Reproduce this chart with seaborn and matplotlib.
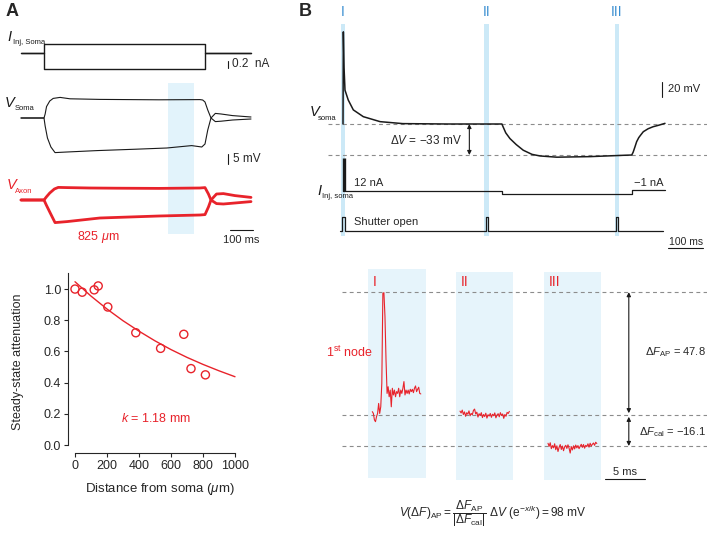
import numpy as np
import matplotlib
matplotlib.use("Agg")
import matplotlib.pyplot as plt
import seaborn as sns

sns.set_theme(style="ticks")
plt.rcParams["font.family"] = ["Liberation Sans", "DejaVu Sans"]
plt.rcParams["mathtext.fontset"] = "custom"
plt.rcParams["mathtext.rm"] = "Liberation Sans"
plt.rcParams["mathtext.it"] = "Liberation Sans:italic"
plt.rcParams["mathtext.bf"] = "Liberation Sans:bold"

RED = "#e8232b"
BLUE_TXT = "#3a8fd1"
BAND_A = "#e2f3fb"
BAND_B = "#cce9f7"
BOX_B = "#e6f4fb"
DASH = "#8c8c8c"

# ---- panel A, traces (time in ms, current in nA, voltage in mV) ----
inj_t = [0, 100, 100, 800, 800, 1000]
inj_up = [0, 0, 0.24, 0.24, 0, 0]
inj_dn = [0, 0, -0.43, -0.43, 0, 0]

soma_up_t = [0, 100, 105, 111, 125, 140, 170, 213, 343, 600, 778, 790, 800, 812, 826, 845, 870, 920, 1000]
soma_up_v = [0, 0, 2, 5.7, 8.5, 9.8, 10.3, 9.6, 9.3, 9.1, 9.2, 9.0, 8, 4, 0, -1.8, -1.6, -1.0, -0.5]
soma_dn_t = [0, 100, 105, 115, 130, 148, 200, 330, 500, 634, 742, 786, 800, 812, 826, 845, 870, 920, 1000]
soma_dn_v = [0, 0, -4, -10, -14.5, -17.3, -17, -16.3, -15.6, -15, -13.8, -14.5, -13, -6, 0, 2.3, 2.0, 1.2, 0.5]

axon_up_t = [0, 100, 110, 125, 145, 162, 200, 300, 417, 600, 778, 800, 815, 826, 850, 880, 930, 1000]
axon_up_v = [0, 0, 1.5, 3.5, 5.5, 6.3, 6.2, 6.0, 5.9, 5.8, 6.0, 6.2, 3, 0, -1.8, -2, -1.5, -0.8]
axon_dn_t = [0, 100, 110, 125, 148, 200, 343, 600, 778, 800, 815, 826, 850, 880, 930, 1000]
axon_dn_v = [0, 0, -2.5, -6, -11.3, -10.8, -9, -8, -7.5, -7.3, -3.5, 0, 3.0, 3.2, 2.2, 1.3]
band_a = (640, 750)

# ---- panel A, attenuation vs distance ----
dist_um = [0, 45, 120, 145, 205, 380, 535, 680, 725, 815]
atten = [1.0, 0.98, 0.995, 1.02, 0.885, 0.72, 0.62, 0.71, 0.49, 0.45]
fit_x = [0, 100, 200, 300, 400, 500, 600, 700, 800, 900, 1000]
fit_y = [1.047, 0.955, 0.872, 0.797, 0.730, 0.668, 0.612, 0.562, 0.517, 0.476, 0.438]

# ---- panel B, somatic recording ----
vB_t = [0, 1, 3, 5.7, 15, 29.5, 58, 106, 171, 300, 454, 458, 465, 477, 495, 515, 540, 563, 611,
        706, 801, 825, 829, 834, 839, 845, 850, 858, 872, 886, 903, 920]
vB_v = [0, 98, 60, 36, 25.5, 15, 7.8, 2.5, 0.4, 0, 0, -3.5, -9.4, -15.5, -21.9, -27.9, -32.3, -34,
        -35.3, -34.7, -33.3, -33, -30, -24.5, -18.8, -14.5, -12, -8.2, -5, -2.9, -1.2, 0.7]
iB_t = [0, 454, 454, 825, 825, 920]
iB_v = [0, 0, -1.2, -1.2, 0.35, 0.35]
pulse_t = 1.5
pulse_nA = 12
shutter_t = [-8.6, -2, -2, 5.7, 5.7, 408.6, 408.6, 415, 415, 780, 780, 786.6, 786.6, 914]
shutter_v = [0, 0, 1, 1, 0, 0, 1, 1, 0, 0, 1, 1, 0, 0]
band_centers = [0, 411, 783]
band_labels = ["I", "II", "III"]
dv_levels = [0, -33]

# ---- panel B, fluorescence at 1st node (time in ms) ----
F_I = [1.3, 0.6, -1.9, -2.6, -0.6, 0.6, 4.5, 0.6, 3.2, 12.3, 47.3, 47.6, 38.3, 21.4, 8.4, 11.0,
       7.1, 9.7, 3.2, 10.4, 7.8, 9.7, 7.1, 9.1, 8.4, 10.4, 7.1, 9.7, 8.4, 10.4, 13.0, 7.8, 9.7,
       8.4, 9.7, 8.2, 10.0, 9.1, 10.0, 8.7, 10.4, 11.3, 9.1, 10.0, 10.8, 8.4, 8.2]
F_II = [1.5, 0.8, 1.9, 0.2, 1.2, -0.5, 0.9, 0.3, 1.6, -0.3, 0.6, 0.1, 1.8, 2.3, 0.4, 1.1, -0.8,
        0.5, -0.2, 0.9, -1.0, 0.2, -0.6, 0.7, -1.2, 0.1, -0.4, 0.6, -0.9, 0.3, -0.3, 0.8, -1.1,
        0.0, 0.5, -0.7, 0.9, -0.2, 0.4, -1.3, 0.2, -0.5, 1.0, 0.6, 1.4]
F_III = [-11.0, -12.2, -10.8, -13.1, -11.9, -12.8, -11.2, -13.5, -12.0, -14.2, -12.6, -11.5,
         -13.4, -12.1, -13.9, -12.4, -11.8, -13.0, -11.6, -12.9, -14.8, -12.3, -13.6, -12.0,
         -13.2, -11.7, -12.8, -11.9, -13.1, -12.2, -11.4, -12.6, -11.5, -12.9, -11.8, -12.3,
         -11.2, -12.5, -11.0, -12.1, -11.4, -10.9, -11.8, -10.6, -11.1]
F_spans = [(0.54, 6.6), (11.5, 17.67), (22.5, 28.6)]
box_spans = [(0, 7.25), (11, 18.1), (22, 29.1)]
box_low = [-24.5, -25.3, -25.3]
box_high = [56.8, 55.6, 55.6]
F_levels = [47.8, 0, -12.06]

W, H = 707, 533
fig = plt.figure(figsize=(7.07, 5.33), dpi=100)


def trace_ax(px, py, x0, sx, y0, sy, z=2):
    # px/py: pixel box; x0/y0: pixel of data zero; sx/sy: pixels per data unit
    ax = fig.add_axes([px[0] / W, 1 - py[1] / H, (px[1] - px[0]) / W, (py[1] - py[0]) / H])
    ax.set_xlim((px[0] - x0) / sx, (px[1] - x0) / sx)
    ax.set_ylim((y0 - py[1]) / sy, (y0 - py[0]) / sy)
    ax.set_axis_off()
    ax.set_zorder(z)
    return ax


def ftext(x, y, s, **kw):
    kw.setdefault("va", "center")
    kw.setdefault("fontsize", 8)
    fig.text(x / W, 1 - y / H, s, **kw)


def sublabel(x, y, main, xs, sub, color="k"):
    fig.text(x / W, 1 - y / H, main, fontsize=10.5, style="italic", color=color, va="baseline")
    fig.text(xs / W, 1 - (y + 3.5) / H, sub, fontsize=5.5, color=color, va="baseline")


def double_arrow(ax, x, y0, y1):
    ax.annotate("", xy=(x, y1), xytext=(x, y0),
                arrowprops=dict(arrowstyle="<|-|>", color="k", lw=0.8,
                                mutation_scale=6, shrinkA=0, shrinkB=0))


# ================= Panel A traces =================
axA_bg = trace_ax((0, 290), (83, 234), 21, 0.23, 234, 1, z=0)
axA_bg.axvspan(*band_a, color=BAND_A, lw=0)

axA_i = trace_ax((0, 290), (30, 80), 21, 0.23, 53, 37.5)
axA_i.plot(inj_t, inj_up, color="k", lw=1.0)
axA_i.plot(inj_t, inj_dn, color="k", lw=1.0)
axA_i.plot([900, 900], [-0.21, -0.40], color="k", lw=0.8)

axA_v = trace_ax((0, 290), (85, 175), 21, 0.23, 118, 2)
axA_v.plot(soma_up_t, soma_up_v, color="k", lw=0.8)
axA_v.plot(soma_dn_t, soma_dn_v, color="k", lw=0.8)
axA_v.plot([900, 900], [-18, -23], color="k", lw=0.8)

axA_x = trace_ax((0, 290), (175, 250), 21, 0.23, 200, 2)
axA_x.plot(axon_up_t, axon_up_v, color=RED, lw=2.0)
axA_x.plot(axon_dn_t, axon_dn_v, color=RED, lw=2.0)
axA_x.plot([909, 1009], [-15, -15], color="k", lw=0.8)

ftext(6, 11, "A", fontsize=13, weight="bold")
sublabel(7, 41, "I", 13, "Inj, Soma")
sublabel(5, 107, "V", 15, "Soma")
sublabel(7, 189, "V", 15, "Axon", color=RED)
ftext(232, 64, "0.2  nA", fontsize=8.5)
ftext(233, 159, "5 mV", fontsize=8.5)
ftext(241.5, 240, "100 ms", ha="center", fontsize=8)
ftext(77, 237, r"825 $\mu$m", color=RED, fontsize=9)

# ================= Panel A scatter =================
axS = fig.add_axes([68 / W, 1 - 453 / H, (240 - 68) / W, (453 - 273) / H])
sns.lineplot(x=fit_x, y=fit_y, ax=axS, color=RED, lw=1)
sns.scatterplot(x=dist_um, y=atten, ax=axS, s=34, color=RED, facecolors="none",
                edgecolor=RED, linewidth=1, zorder=3)
axS.set_xlim(-43.75, 1031.25)
axS.set_ylim(-0.051, 1.103)
axS.set_xticks(range(0, 1001, 200))
axS.set_yticks([0, 0.2, 0.4, 0.6, 0.8, 1.0])
axS.set_yticklabels(["0.0", "0.2", "0.4", "0.6", "0.8", "1.0"])
sns.despine(ax=axS)
axS.spines["left"].set_bounds(0, 1.1)
axS.spines["bottom"].set_bounds(0, 1000)
for sp in ("left", "bottom"):
    axS.spines[sp].set_linewidth(0.8)
axS.tick_params(labelsize=9, length=3, width=0.8, pad=2)
axS.text(506, 0.17, r"$k$ = 1.18 mm", color=RED, ha="center", va="center", fontsize=9)
ftext(18, 362, "Steady-state attenuation", rotation=90, ha="center", fontsize=9)
ftext(160, 489, r"Distance from soma ($\mu$m)", ha="center", fontsize=9.5)

# ================= Panel B traces =================
axB_bg = trace_ax((290, 707), (24, 236), 343, 0.35, 236, 1, z=0)
for c in band_centers:
    axB_bg.axvspan(c - 7, c + 7, color=BAND_B, lw=0)

axB_v = trace_ax((290, 707), (25, 165), 343, 0.35, 124, 0.94)
for lvl in dv_levels:
    axB_v.plot([-43, 1040], [lvl, lvl], color=DASH, lw=0.8, dashes=(3.5, 3))
axB_v.plot(vB_t, vB_v, color="k", lw=1.1)
double_arrow(axB_v, 361, dv_levels[0], dv_levels[1])
axB_v.plot([911, 911], [28.7, 44.7], color="k", lw=0.8)

axB_i = trace_ax((290, 707), (150, 200), 343, 0.35, 191, 2.75)
axB_i.plot(iB_t, iB_v, color="k", lw=0.9)
axB_i.plot([pulse_t, pulse_t], [0, pulse_nA], color="k", lw=2.4, solid_capstyle="butt")

axB_s = trace_ax((290, 707), (205, 255), 343, 0.35, 230.7, 14)
axB_s.plot(shutter_t, shutter_v, color="k", lw=0.9)
axB_s.plot([929, 1029], [-1.24, -1.24], color="k", lw=0.8)

ftext(299, 11, "B", fontsize=13, weight="bold")
for c, lab in zip(band_centers, band_labels):
    ftext(343 + c * 0.35, 12, lab, color=BLUE_TXT, ha="center", fontsize=10)
sublabel(310, 116, "V", 318, "soma")
sublabel(317, 195, "I", 322, "Inj, soma")
ftext(426, 140, r"$\Delta V$ = $-$33 mV", ha="center", fontsize=8.5)
ftext(668, 89, "20 mV", fontsize=8)
ftext(354, 183, "12 nA", fontsize=8)
ftext(664, 183, "\u22121 nA", ha="right", fontsize=8)
ftext(354, 222, "Shutter open", fontsize=8)
ftext(686, 242, "100 ms", ha="center", fontsize=7.5)

# ================= Panel B fluorescence =================
axF = trace_ax((290, 707), (262, 485), 368, 8, 415, 2.57)
for (t0, t1), lo, hi in zip(box_spans, box_low, box_high):
    axF.fill_between([t0, t1], lo, hi, color=BOX_B, lw=0)
for lvl in F_levels:
    axF.plot([-3.25, 42.4], [lvl, lvl], color=DASH, lw=0.8, dashes=(3.5, 3))
for (t0, t1), vals in zip(F_spans, [F_I, F_II, F_III]):
    axF.plot(np.linspace(t0, t1, len(vals)), vals, color=RED, lw=0.8)
double_arrow(axF, 32.6, F_levels[0], F_levels[1] + 0.7)
double_arrow(axF, 32.6, F_levels[1] - 0.7, F_levels[2])
axF.plot([29.6, 34.6], [-24.9, -24.9], color="k", lw=0.8)

for (t0, _), lab in zip(box_spans, band_labels):
    ftext(368 + t0 * 8 + 5, 282, lab, color=RED, fontsize=10)
ftext(326, 352, r"1$^{\rm st}$ node", color=RED, fontsize=9)
ftext(706, 352, r"$\Delta F_{\rm AP}$ = 47.8", ha="right", fontsize=8)
ftext(706, 432, r"$\Delta F_{\rm cal}$ = $-$16.1", ha="right", fontsize=8)
ftext(625, 472, "5 ms", ha="center", fontsize=8)
ftext(493, 514, r"$V(\Delta F)_{\rm AP} = \dfrac{\Delta F_{\rm AP}}{|\Delta F_{\rm cal}|}\ \Delta V\ (\mathrm{e}^{-x/k}) = 98\ \mathrm{mV}$",
      ha="center", fontsize=8.6)

fig.savefig("out.png", dpi=100)
